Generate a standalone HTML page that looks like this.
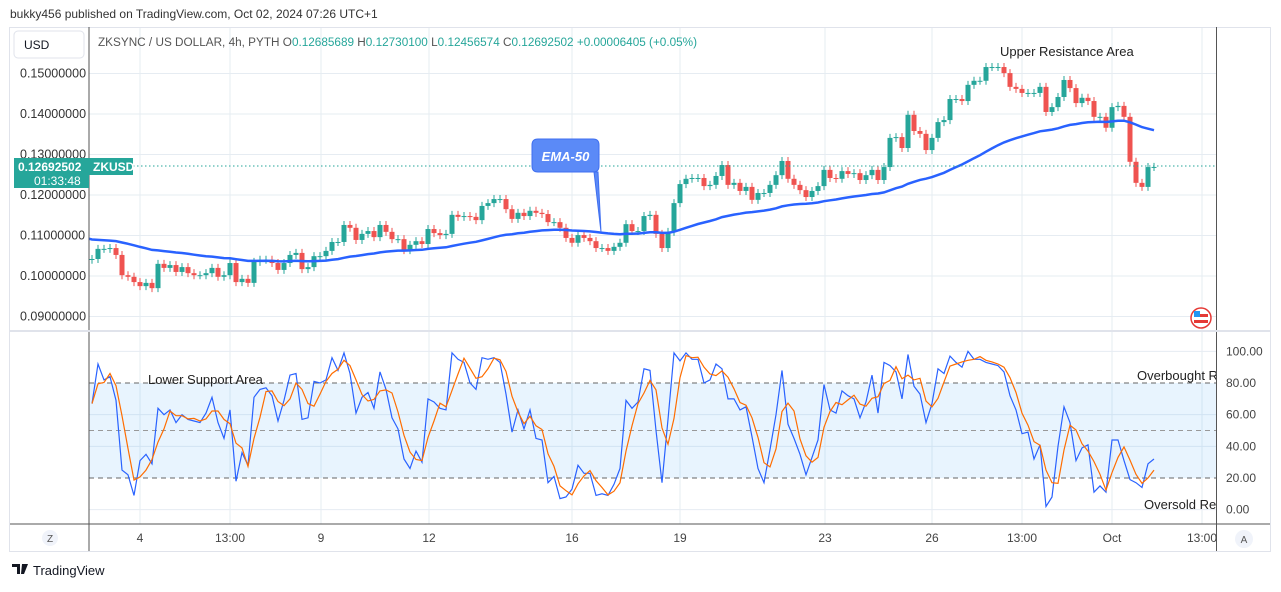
<!DOCTYPE html>
<html><head><meta charset="utf-8"><style>
body{margin:0;background:#fff;font-family:"Liberation Sans",sans-serif;}
svg text{font-family:"Liberation Sans",sans-serif;}
</style></head><body>
<svg id="c" width="1281" height="587" viewBox="0 0 1281 587" xmlns="http://www.w3.org/2000/svg">
<rect x="0" y="0" width="1281" height="587" fill="#fff"/>
<text x="10" y="18" font-size="12" fill="#333">bukky456 published on TradingView.com, Oct 02, 2024 07:26 UTC+1</text>
<rect x="9.5" y="27.5" width="1261" height="524" fill="#fff" stroke="#e0e3eb"/>
<g id="grid"></g>
<rect x="89" y="383" width="1127" height="95" fill="#2196f3" fill-opacity="0.1"/>
<g id="oscGuides"></g>
<g id="candles"></g>
<path id="ema" fill="none" stroke="#2962ff" stroke-width="2.5"/>
<path id="kline" fill="none" stroke="#2962ff" stroke-width="1.2"/>
<path id="dline" fill="none" stroke="#ff6d00" stroke-width="1.2"/>
<line x1="89" y1="166" x2="1216" y2="166" stroke="#26a69a" stroke-dasharray="1.5,2.5"/>
<line x1="89" y1="27" x2="89" y2="551" stroke="#555"/>
<line x1="1216.5" y1="27" x2="1216.5" y2="551" stroke="#555"/>
<line x1="10" y1="331" x2="1270" y2="331" stroke="#e0e3eb" stroke-width="2"/>
<line x1="10" y1="524" x2="1270" y2="524" stroke="#555"/>
<g id="priceLabels"></g>
<g id="oscLabels"></g>
<g id="timeLabels"></g>
<rect x="14" y="31" width="70" height="27" rx="4" fill="#fff" stroke="#e0e3eb"/>
<text x="24" y="49" font-size="12" fill="#131722">USD</text>
<text x="98" y="46" font-size="11.75" fill="#555">ZKSYNC / US DOLLAR, 4h, PYTH  O<tspan fill="#26a69a">0.12685689</tspan>  H<tspan fill="#26a69a">0.12730100</tspan>  L<tspan fill="#26a69a">0.12456574</tspan>  C<tspan fill="#26a69a">0.12692502</tspan>  <tspan fill="#26a69a">+0.00006405 (+0.05%)</tspan></text>
<rect x="14" y="158" width="75" height="30" fill="#26a69a"/>
<text x="18" y="171" font-size="12" font-weight="bold" fill="#fff">0.12692502</text>
<text x="34" y="185" font-size="12" fill="#fff">01:33:48</text>
<rect x="89" y="158" width="44" height="17" fill="#26a69a"/>
<text x="93" y="171" font-size="12" font-weight="bold" fill="#fff">ZKUSD</text>
<path d="M538,139 H593 Q599,139 599,145 V166 Q599,172 593,172 H598 L601,232 L594,172 H538 Q532,172 532,166 V145 Q532,139 538,139 Z" fill="#5b8af7" stroke="#3f6ff0"/>
<text x="565.5" y="161" font-size="13" font-style="italic" font-weight="bold" fill="#fff" text-anchor="middle">EMA-50</text>
<text x="1000" y="56" font-size="13" fill="#222">Upper Resistance Area</text>
<text x="148" y="384" font-size="13" fill="#222">Lower Support Area</text>
<svg x="0" y="0" width="1216" height="551" overflow="hidden">
<text x="1137" y="380" font-size="13" fill="#222">Overbought Region</text>
<text x="1144" y="509" font-size="13" fill="#222">Oversold Region</text>
</svg>
<g>
<circle cx="1201" cy="318" r="10" fill="#fff" stroke="#e53935" stroke-width="1.5"/>
<rect x="1194" y="314" width="14" height="3" fill="#e53935"/><rect x="1194" y="320" width="14" height="3" fill="#e53935"/>
<rect x="1194" y="311" width="6" height="6" fill="#2196f3"/>
</g>
<circle cx="50" cy="538" r="8" fill="#f0f3fa"/>
<text x="50" y="542" font-size="10" fill="#555" text-anchor="middle">Z</text>
<circle cx="1244" cy="539" r="9" fill="#f0f3fa"/>
<text x="1244" y="543" font-size="10" fill="#555" text-anchor="middle">A</text>
<g>
<path d="M12,564 h8 v10 h-3 v-7 h-5z M22,564 h6 l-4,10 h-3z" fill="#131722"/>
<text x="33" y="575" font-size="13" fill="#131722">TradingView</text>
</g>
</svg>
<script>
const closes=[.1042,.1067,.1067,.1069,.1052,.1002,.0998,.0985,.0975,.0983,.0970,.1030,.1020,.1027,.1010,.1022,.1007,.1002,.1002,.1007,
.1020,.0998,.1002,.1032,.0985,.0993,.0983,.1035,.1040,.1040,.1032,.1015,.1032,.1052,.1057,.1017,.1022,.1049,.1049,.1062,
.1084,.1084,.1126,.1119,.1089,.1104,.1111,.1096,.1126,.1109,.1091,.1091,.1064,.1077,.1086,.1079,.1116,.1106,.1101,.1104,
.1151,.1146,.1148,.1146,.1138,.1173,.1180,.1190,.1190,.1165,.1141,.1156,.1148,.1161,.1156,.1153,.1133,.1133,.1119,.1094,
.1082,.1101,.1094,.1086,.1069,.1069,.1062,.1072,.1082,.1128,.1111,.1111,.1148,.1151,.1104,.1069,.1109,.1180,.1227,.1240,
.1242,.1242,.1222,.1225,.1247,.1274,.1225,.1230,.1210,.1220,.1188,.1205,.1205,.1225,.1249,.1284,.1240,.1225,.1212,.1195,
.1210,.1222,.1262,.1242,.1240,.1259,.1252,.1254,.1237,.1249,.1262,.1237,.1269,.1341,.1343,.1316,.1398,.1358,.1351,.1311,
.1341,.1380,.1385,.1437,.1437,.1432,.1472,.1482,.1482,.1516,.1516,.1516,.1501,.1467,.1462,.1452,.1452,.1452,.1467,.1405,
.1417,.1442,.1484,.1464,.1427,.1440,.1432,.1393,.1393,.1366,.1417,.1420,.1393,.1282,.1230,.1220,.1269,.12693];
const firstOpen=0.1040;
const emaSeed=0.1092;
const stochK=[67,92,82,84,69,25,22,9,31,35,29,64,60,63,55,60,57,56,55,61,71,55,45,63,18,36,28,71,76,77,72,56,69,85,86,57,58,81,80,82,
96,88,99,86,61,71,74,64,87,76,58,51,32,26,37,30,70,68,64,63,99,95,93,80,76,96,95,96,93,73,49,63,51,63,45,44,17,21,7,8,
13,28,23,23,9,10,9,16,26,69,
64,68,89,88,50,17,57,99,94,99,95,95,80,82,92,89,70,70,63,65,46,26,17,38,60,88,54,45,35,22,33,44,79,63,61,75,72,70,58,68,
85,61,93,91,87,70,98,78,73,55,67,89,86,97,93,90,100,95,95,93,92,91,87,72,63,48,49,32,41,2,8,40,65,55,31,39,41,11,15,11,
44,44,31,19,17,14,29,32];
const priceTicks=[0.15,0.14,0.13,0.12,0.11,0.10,0.09];
const oscTicks=[100,80,60,40,20,0];
const timeLabels=["4","13:00","9","12","16","19","23","26","13:00","Oct","13:00"];
const timeX=[140,230,321,429,572,680,825,932,1022,1112,1202];

const NS="http://www.w3.org/2000/svg";
const X0=92,DX=6;
const xOf=i=>X0+i*DX;
const yP=p=>276-(p-0.10)*4050;
const yO=v=>478-(v-20)*1.583;
function mk(tag,attrs,parent){const e=document.createElementNS(NS,tag);for(const k in attrs)e.setAttribute(k,attrs[k]);parent.appendChild(e);return e;}
const grid=document.getElementById('grid');
priceTicks.forEach(p=>{const l=mk('line',{x1:89,x2:1216,y1:yP(p),y2:yP(p),stroke:'#e6ecf2'},grid);


const t=mk('text',{x:20,y:yP(p)+4,'font-size':12.5,fill:'#333'},document.getElementById('priceLabels'));t.textContent=p.toFixed(8);

});
oscTicks.forEach(v=>{if(v!==80&&v!==20){const l=mk('line',{x1:89,x2:1216,y1:yO(v),y2:yO(v),stroke:'#e6ecf2'},grid);

}
const t=mk('text',{x:1226,y:yO(v)+4,'font-size':12,fill:'#444'},document.getElementById('oscLabels'));t.textContent=v.toFixed(2);

});
timeX.forEach((x,i)=>{const l=mk('line',{x1:x,x2:x,y1:28,y2:524,stroke:'#e6ecf2'},grid);


const t=mk('text',{x:x,y:542,'font-size':12,fill:'#444','text-anchor':'middle'},document.getElementById('timeLabels'));t.textContent=timeLabels[i];

});
const og=document.getElementById('oscGuides');
[80,50,20].forEach(v=>{const l=mk('line',{x1:89,x2:1216,y1:yO(v),y2:yO(v),stroke:v===50?'#999':'#666','stroke-dasharray':'5,4'},og);

});
const cg=document.getElementById('candles');
let prev=firstOpen;
closes.forEach((c,i)=>{const o=prev;prev=c;const up=c>=o;const col=up?'#26a69a':'#ef5350';
const top=Math.min(yP(o),yP(c)),bot=Math.max(yP(o),yP(c));const x=xOf(i);
const w=mk('line',{x1:x,x2:x,y1:top-4,y2:bot+4,stroke:col},cg);


const b=mk('rect',{x:x-2.5,y:top,width:5,height:Math.max(1,bot-top),fill:col},cg);

});
let e=emaSeed,d='';const a=2/51;
closes.forEach((c,i)=>{e=c*a+e*(1-a);d+=(i?'L':'M')+xOf(i)+','+yP(e).toFixed(1);});
document.getElementById('ema').setAttribute('d','M89,'+yP(emaSeed).toFixed(1)+'L'+d.slice(1));
let kd='',dd='';
stochK.forEach((k,i)=>{kd+=(i?'L':'M')+xOf(i)+','+yO(k).toFixed(1);
const s=stochK.slice(Math.max(0,i-2),i+1);const m=s.reduce((p,q)=>p+q,0)/s.length;dd+=(i?'L':'M')+xOf(i)+','+yO(m).toFixed(1);});
document.getElementById('kline').setAttribute('d',kd);
document.getElementById('dline').setAttribute('d',dd);
</script>
</body></html>
